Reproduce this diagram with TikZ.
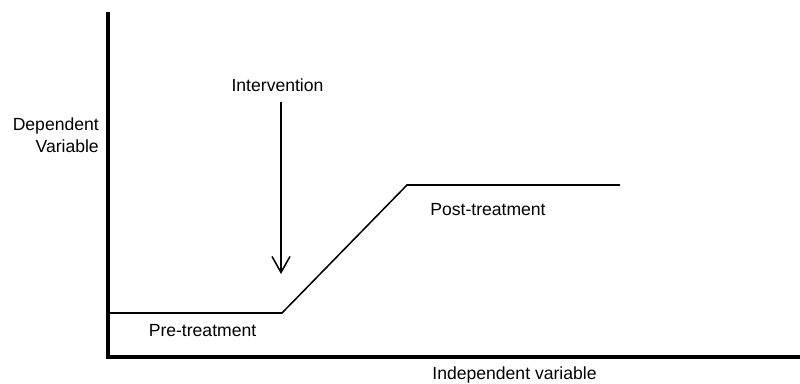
\documentclass[tikz,border=0pt]{standalone}
\usepackage{fontspec}
\setmainfont{Liberation Sans}
\usetikzlibrary{arrows.meta,positioning}
\definecolor{ink}{HTML}{000000}
\tikzset{
  axisline/.style={draw=ink,line width=3pt,line join=miter},
  trend/.style={draw=ink,line width=1.3pt},
  cue/.style={-{Straight Barb[length=4.8mm,width=5.4mm]},draw=ink,line width=1.3pt},
  lbl/.style={inner sep=0pt,text=ink,font=\fontsize{15}{18.8}\selectfont}
}
\begin{document}
\begin{tikzpicture}[x=0.3mm,y=-0.3mm]
    \useasboundingbox (0,0) rectangle (800,383);
    % axes
    \coordinate (top) at (108,12);
    \coordinate (origin) at (108,357);
    \coordinate (right) at (800,357);
    \draw[axisline] (top) -- (origin) -- (right);
    % phases
    \coordinate (preA) at (108,313);
    \coordinate (preB) at (282,313);
    \coordinate (postA) at (407,185);
    \coordinate (postB) at (620,185);
    \draw[trend] (preA) -- (preB) -- (postA) -- (postB);
    % intervention
    \node[lbl,anchor=base] (interv) at (277.5,91) {Intervention};
    \coordinate (cueTop) at (281,102);
    \coordinate (cueTip) at (281,274);
    \draw[cue] (cueTop) -- (cueTip);
    % labels
    \node[lbl,anchor=north east,align=right] (depvar) at (99,118) {Dependent\\Variable};
    \node[lbl,anchor=base] (pre) at (202.5,336.7) {Pre-treatment};
    \node[lbl,anchor=base] (post) at (488,215) {Post-treatment};
    \node[lbl,anchor=base] (indvar) at (514.5,379.3) {Independent variable};
  \end{tikzpicture}
\end{document}
